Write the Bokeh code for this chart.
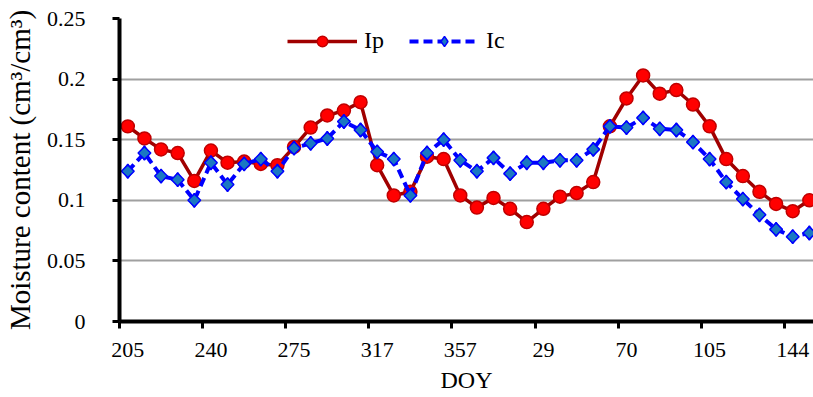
import math
from bokeh.plotting import figure
from bokeh.models import FixedTicker, NumeralTickFormatter, Legend, LegendItem, ColumnDataSource
from bokeh.embed import file_html
from bokeh.resources import INLINE

# ---- data ----
tick_labels = ["205", "240", "275", "317", "357", "29", "70", "105", "144"]
ip = [0.161, 0.151, 0.142, 0.139, 0.116, 0.141, 0.131, 0.132, 0.130, 0.129,
      0.144, 0.160, 0.170, 0.174, 0.181, 0.129, 0.104, 0.107, 0.136, 0.134,
      0.104, 0.094, 0.102, 0.093, 0.082, 0.093, 0.103, 0.106, 0.115, 0.161,
      0.184, 0.203, 0.188, 0.191, 0.179, 0.161, 0.134, 0.120, 0.107, 0.097,
      0.091, 0.100]
ic = [0.124, 0.139, 0.120, 0.117, 0.100, 0.131, 0.113, 0.130, 0.134, 0.124,
      0.143, 0.147, 0.151, 0.165, 0.158, 0.140, 0.134, 0.104, 0.139, 0.150,
      0.133, 0.124, 0.135, 0.122, 0.131, 0.131, 0.133, 0.133, 0.142, 0.161,
      0.160, 0.168, 0.159, 0.158, 0.148, 0.134, 0.115, 0.101, 0.088, 0.076,
      0.070, 0.073]
label_every = 5

idx = list(range(len(ip)))
src = ColumnDataSource(dict(x=idx, ip=ip, ic=ic))

FONT = "Liberation Serif"

p = figure(width=813, height=397, output_backend="svg", toolbar_location=None,
           x_range=(-0.5, 41.25), y_range=(0, 0.25),
           min_border_left=117, min_border_right=0, min_border_top=18,
           min_border_bottom=76)
p.outline_line_color = None
p.background_fill_color = "white"
p.border_fill_color = "white"

# grid
p.xgrid.grid_line_color = None
p.ygrid.grid_line_color = "#a0a0a0"
p.ygrid.grid_line_width = 2

# y axis
p.yaxis.ticker = FixedTicker(ticks=[0, 0.05, 0.1, 0.15, 0.2, 0.25])
p.yaxis.formatter = NumeralTickFormatter(format="0.[00]")
p.yaxis.axis_label = "Moisture content (cm³/cm³)"
p.yaxis.minor_tick_line_color = None
p.yaxis.major_tick_out = 7
p.yaxis.major_tick_in = 0
p.yaxis.major_label_standoff = 27
p.yaxis.axis_label_standoff = 8

# x axis
major_pos = [i * label_every for i in range(len(tick_labels))]
minor_pos = [m - 0.5 for m in major_pos]
p.xaxis.ticker = FixedTicker(ticks=major_pos, minor_ticks=minor_pos)
p.xaxis.major_label_overrides = {m: t for m, t in zip(major_pos, tick_labels)}
p.xaxis.axis_label = "DOY"
p.xaxis.major_tick_out = 0
p.xaxis.major_tick_in = 0
p.xaxis.minor_tick_out = 7
p.xaxis.minor_tick_in = 0
p.xaxis.minor_tick_line_width = 3
p.xaxis.minor_tick_line_color = "black"
p.xaxis.major_label_standoff = 14
p.xaxis.axis_label_standoff = 7

for ax in [p.xaxis[0], p.yaxis[0]]:
    ax.axis_line_width = 4
    ax.axis_line_color = "black"
    ax.major_tick_line_width = 3
    ax.major_tick_line_color = "black"
    ax.major_label_text_font = FONT
    ax.major_label_text_font_size = "22px"
    ax.major_label_text_color = "black"
    ax.axis_label_text_font = FONT
    ax.axis_label_text_font_size = "24px"
    ax.axis_label_text_font_style = "normal"
    ax.axis_label_text_color = "black"
p.yaxis.axis_label_text_font_size = "29px"

# series
l1 = p.line("x", "ip", source=src, line_color="#a00000", line_width=3.5)
s1 = p.scatter("x", "ip", source=src, marker="circle", size=13,
               fill_color="#ff0000", line_color="#c00000", line_width=1.5)
l2 = p.line("x", "ic", source=src, line_color="#0000ff", line_width=4,
            line_dash="9 5")
s2 = p.scatter("x", "ic", source=src, marker="diamond", size=14,
               fill_color="#1a78c2", line_color="#0000ff", line_width=1.5)
p.rect("x", "ic", source=src, width=9, height=9, width_units="screen",
       height_units="screen", angle=math.pi / 4,
       fill_color="#1a78c2", line_color="#0000ff", line_width=1.5)

legend = Legend(items=[LegendItem(label="Ip", renderers=[l1, s1]),
                       LegendItem(label="Ic", renderers=[l2, s2])],
                orientation="horizontal", location=(168, 267),
                glyph_width=70, glyph_height=26, padding=0, margin=0,
                spacing=25, label_standoff=7,
                border_line_color=None, background_fill_alpha=0,
                label_text_font=FONT, label_text_font_size="24px",
                label_text_color="black")
p.add_layout(legend, "center")

open("out.html", "w").write(file_html(p, INLINE))
